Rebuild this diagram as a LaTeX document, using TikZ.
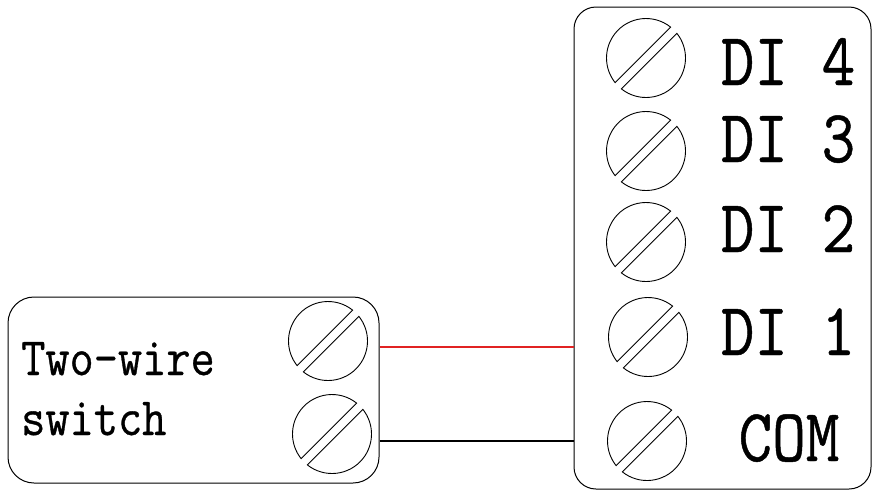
\documentclass[tikz,border=0pt]{standalone}
\usepackage{fontspec}
\newfontfamily\termfont{Latin Modern Mono}[FakeStretch=0.87, FakeBold=0.6]
\usetikzlibrary{positioning}
\usepackage{xcolor}
\definecolor{wirered}{RGB}{225,35,35}

\begin{document}
\begin{tikzpicture}[x=1pt,y=-1pt,
		box/.style={draw, line width=1pt, inner sep=0pt},
		screw/.style={circle, minimum size=80pt, inner sep=0pt},
		pinlbl/.style={font=\termfont\fontsize{75}{75}\selectfont, anchor=base, inner sep=0pt},
		swlbl/.style={font=\termfont\fontsize{54}{54}\selectfont, anchor=base west, inner sep=0pt}]
		\useasboundingbox (0,0) rectangle (872,491);
		
		% terminal block
		\node[box, rounded corners=22pt, minimum width=297pt, minimum height=482pt] (dibox) at (722.5,248) {};
		\foreach \n/\sx/\sy in {t4/646/58, t3/646/151, t2/646/242, t1/648/337, tc/647/441, s1/328/341, s2/332/434} {
			\node[screw] (\n) at (\sx,\sy) {};
			\draw[line width=0.9pt] (\n.center) ++(-51.5:39.5) arc[start angle=-51.5, end angle=-218.5, radius=39.5] -- cycle;
			\draw[line width=0.9pt] (\n.center) ++(-231.5:39.5) arc[start angle=-231.5, end angle=-398.5, radius=39.5] -- cycle;
		}
		\node[pinlbl] (l4) at (788,85) {DI 4};
		\node[pinlbl] (l3) at (788,162) {DI 3};
		\node[pinlbl] (l2) at (788,252) {DI 2};
		\node[pinlbl] (l1) at (788,355) {DI 1};
		\node[pinlbl] (lc) at (789,461) {COM};
		
		% switch
		\node[box, rounded corners=26pt, minimum width=371pt, minimum height=186pt] (swbox) at (193.5,390) {};
		\node[swlbl] (swtop) at (21,375) {Two-wire};
		\node[swlbl] (swbot) at (21,435) {switch};
		
		% wires
		\coordinate (w1) at (0,347);
		\coordinate (w2) at (0,441);
		\draw[wirered, line width=1.1pt] (swbox.east |- w1) -- (dibox.west |- w1);
		\draw[line width=1.1pt] (swbox.east |- w2) -- (dibox.west |- w2);
	\end{tikzpicture}
\end{document}
